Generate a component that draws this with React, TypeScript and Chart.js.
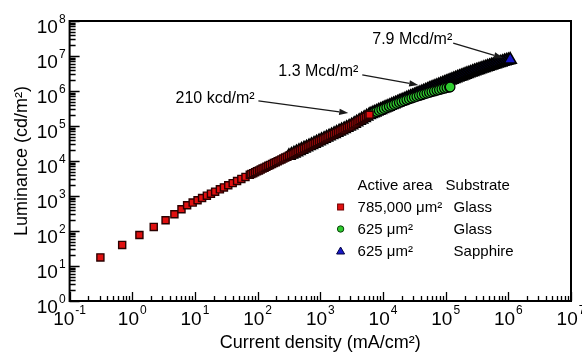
import React, { useEffect, useRef } from 'react';
import { Chart, registerables } from 'chart.js';

Chart.register(...registerables);

const FONT = '"Liberation Sans", Arial, Helvetica, sans-serif';

// Axis decades (exponents of 10)
const xDecades = [-1, 0, 1, 2, 3, 4, 5, 6, 7];
const yDecades = [0, 1, 2, 3, 4, 5, 6, 7, 8];

// 785,000 µm², glass (red squares)
const redCurrent = [
  0.31, 0.69, 1.3, 2.2, 3.4, 4.7, 6.1, 7.5, 9.2, 11, 13, 15.5, 18, 21, 25, 29, 34, 40, 47, 55, 64, 75,
  79.4, 85.1, 91.2, 97.7, 105, 112, 120, 129, 138, 148, 158, 170, 182, 195, 209, 224, 240, 257, 275, 295,
  316, 339, 363, 389, 417, 447, 479, 513, 550, 589, 631, 676, 724, 776, 832, 891, 955, 1023, 1096, 1175,
  1259, 1349, 1445, 1549, 1660, 1778, 1905, 2042, 2188, 2344, 2512, 2692, 2884, 3090, 3311, 3548, 3802,
  4074, 4365, 4677, 5012, 5370, 5754, 6100,
];
const redLum = [
  17.6, 40, 77, 131, 203, 301, 418, 543, 649, 757, 877, 1021, 1164, 1331, 1549, 1762, 2024, 2333, 2681, 3076, 3508, 4027,
  4236, 4498, 4775, 5070, 5383, 5715, 6067, 6442, 6855, 7278, 7727, 8204, 8710, 9247, 9817, 10420, 11070, 11780, 12500, 13270,
  14090, 14960, 15890, 16870, 17910, 19010, 20230, 21480, 22800, 24210, 25700, 27290, 28970, 30760, 32660, 34750, 36900, 39170, 41590, 44160,
  46880, 49770, 52840, 56100, 59700, 63390, 67300, 71450, 75860, 80540, 85510, 90780, 96380, 102600, 110400, 118600, 127600,
  137100, 147600, 158900, 170600, 183700, 197700, 210000,
];

// 625 µm², glass (green circles)
const greenCurrent = [
  316, 347, 380, 417, 457, 501, 550, 603, 661, 724, 794, 871, 955, 1047, 1148, 1259, 1380, 1514, 1660, 1820,
  1995, 2188, 2399, 2630, 2884, 3162, 3467, 3802, 4169, 4571, 5012, 5495, 6026, 6607, 7244, 7943, 8710, 9550,
  10470, 11480, 12590, 13800, 15140, 16600, 18200, 19950, 21880, 23990, 26300, 28840, 31620, 34670, 38020,
  41690, 45710, 50120, 54950, 60260, 66070, 72440, 79430, 87100, 95500, 104700, 114800, 118000,
];
const greenLum = [
  14090, 15280, 16520, 17910, 19410, 21040, 22800, 24660, 26730, 28970, 31410, 34040, 36900, 39900, 43250, 46880, 50820, 55080, 59700, 64570,
  69980, 75860, 82220, 89130, 96380, 105200, 115900, 127600, 140600, 154900, 170600, 188400, 207500, 223900, 240500, 258200, 277300, 297200,
  317700, 339600, 363100, 387300, 413000, 439500, 467700, 497700, 527200, 559800, 592900, 628100, 663700, 699800, 739600,
  778000, 820300, 863000, 905700, 950600, 995400, 1044000, 1092000, 1140000, 1191000, 1242000, 1294000, 1300000,
];

// 625 µm², sapphire (blue triangles)
const blueCurrent = [
  316, 347, 380, 417, 457, 501, 550, 603, 661, 724, 794, 871, 955, 1047, 1148, 1259, 1380, 1514, 1660, 1820,
  1995, 2188, 2399, 2630, 2884, 3162, 3467, 3802, 4169, 4571, 5012, 5495, 6026,
  6457, 6918, 7413, 7943, 8511, 9120, 9772, 10470, 11220, 12020, 12880, 13800, 14790, 15850, 16980, 18200, 19500, 20890,
  22390, 23990, 25700, 27540, 29510, 31620, 33880, 36310, 38900, 41690, 44670, 47860, 51290, 54950, 58880, 63100, 67610,
  72440, 77620, 83180, 89130, 95500, 102300, 109600, 117500, 125900, 134900, 144500, 154900, 166000, 177800, 190500,
  204200, 218800, 234400, 251200, 269200, 288400, 309000, 331100, 354800, 380200, 407400, 436500, 467700, 501200,
  537000, 575400, 616600, 660700, 707900, 758600, 812800, 871000, 933300, 1000000, 1070000,
];
const blueLum = [
  14090, 15280, 16520, 17910, 19410, 21040, 22800, 24660, 26730, 28970, 31410, 34040, 36900, 39900, 43250, 46880, 50820, 55080, 59700, 64570,
  69980, 75860, 82220, 89130, 96380, 105200, 115900, 127600, 140600, 154900, 170600, 188400, 207500,
  219800, 232300, 245500, 259400, 273500, 289100, 305500, 322100, 340400, 358900, 379300, 399900, 422700, 445700, 469900, 495500, 522400, 550800,
  580800, 612400, 645700, 680800, 717800, 756800, 796200, 839500, 885100, 931100, 981800, 1033000, 1086000, 1146000, 1205000, 1268000, 1334000,
  1403000, 1476000, 1552000, 1633000, 1718000, 1807000, 1901000, 1995000, 2099000, 2203000, 2312000, 2427000, 2547000, 2667000, 2799000,
  2931000, 3069000, 3214000, 3365000, 3516000, 3673000, 3846000, 4018000, 4188000, 4375000, 4560000, 4764000, 4966000, 5176000,
  5383000, 5610000, 5834000, 6081000, 6324000, 6577000, 6823000, 7096000, 7362000, 7638000, 7900000,
];

// Legend table
const legendHeader = ['Active area', 'Substrate'];
const legendArea = ['785,000 μm²', '625 μm²', '625 μm²'];
const legendSubstrate = ['Glass', 'Glass', 'Sapphire'];

// Annotations (data coordinates)
const annotationText = ['210 kcd/m²', '1.3 Mcd/m²', '7.9 Mcd/m²'];
const annotationTextX = [4.9, 214, 6745];
const annotationTextY = [4.5e5, 2.68e6, 2.2e7];
const arrowFromX = [103, 4670, 1.32e5];
const arrowFromY = [5.2e5, 2.87e6, 2.35e7];
const arrowToX = [2790, 3.65e4, 8.2e5];
const arrowToY = [2.35e5, 1.48e6, 8.8e6];

const RED = '#e01010';
const GREEN = '#2fcc2f';
const BLUE = '#1818c8';

function pts(xs: number[], ys: number[]) {
  return xs.map((x, i) => ({ x, y: ys[i] }));
}

function drawArrow(ctx: CanvasRenderingContext2D, x1: number, y1: number, x2: number, y2: number) {
  const ang = Math.atan2(y2 - y1, x2 - x1);
  const head = 9;
  const half = 3.2;
  const bx = x2 - head * Math.cos(ang);
  const by = y2 - head * Math.sin(ang);
  ctx.beginPath();
  ctx.moveTo(x1, y1);
  ctx.lineTo(bx, by);
  ctx.stroke();
  ctx.beginPath();
  ctx.moveTo(x2, y2);
  ctx.lineTo(bx + half * Math.sin(ang), by - half * Math.cos(ang));
  ctx.lineTo(bx - half * Math.sin(ang), by + half * Math.cos(ang));
  ctx.closePath();
  ctx.fill();
}

const overlay = {
  id: 'overlay',
  afterDraw(chart: any) {
    const { ctx, chartArea: a, scales } = chart;
    const xs = scales.x;
    const ys = scales.y;
    ctx.save();
    ctx.strokeStyle = '#000';
    ctx.fillStyle = '#000';

    // inward ticks: bottom axis
    ctx.lineWidth = 1.3;
    ctx.beginPath();
    for (let i = 0; i < xDecades.length; i++) {
      const e = xDecades[i];
      const p = Math.round(xs.getPixelForValue(Math.pow(10, e))) + 0.5;
      ctx.moveTo(p, a.bottom);
      ctx.lineTo(p, a.bottom - 9);
      if (i < xDecades.length - 1) {
        for (let m = 2; m <= 9; m++) {
          const q = Math.round(xs.getPixelForValue(m * Math.pow(10, e))) + 0.5;
          ctx.moveTo(q, a.bottom);
          ctx.lineTo(q, a.bottom - 5);
        }
      }
    }
    // left axis
    for (let i = 0; i < yDecades.length; i++) {
      const e = yDecades[i];
      const p = Math.round(ys.getPixelForValue(Math.pow(10, e))) + 0.5;
      ctx.moveTo(a.left, p);
      ctx.lineTo(a.left + 10, p);
      if (i < yDecades.length - 1) {
        for (let m = 2; m <= 9; m++) {
          const q = Math.round(ys.getPixelForValue(m * Math.pow(10, e))) + 0.5;
          ctx.moveTo(a.left, q);
          ctx.lineTo(a.left + 6, q);
        }
      }
    }
    ctx.stroke();

    // frame
    ctx.lineWidth = 2;
    ctx.strokeRect(a.left, a.top, a.right - a.left, a.bottom - a.top);

    // tick labels
    const big = `19px ${FONT}`;
    const small = `12px ${FONT}`;
    ctx.textBaseline = 'alphabetic';
    ctx.textAlign = 'left';
    for (const e of xDecades) {
      const p = xs.getPixelForValue(Math.pow(10, e));
      ctx.font = big;
      const w1 = ctx.measureText('10').width;
      ctx.font = small;
      const ex = String(e);
      const w2 = ctx.measureText(ex).width;
      const x0 = p - (w1 + w2 + 1) / 2;
      ctx.font = big;
      ctx.fillText('10', x0, a.bottom + 24);
      ctx.font = small;
      ctx.fillText(ex, x0 + w1 + 1, a.bottom + 13);
    }
    for (const e of yDecades) {
      const p = ys.getPixelForValue(Math.pow(10, e));
      ctx.font = small;
      const ex = String(e);
      const w2 = ctx.measureText(ex).width;
      ctx.font = big;
      const w1 = ctx.measureText('10').width;
      const xr = a.left - 4;
      ctx.fillText('10', xr - w2 - 1 - w1, p + 12);
      ctx.font = small;
      ctx.fillText(ex, xr - w2, p + 2);
    }

    // annotations
    ctx.font = `16px ${FONT}`;
    ctx.lineWidth = 1.3;
    ctx.strokeStyle = '#1a1a1a';
    for (let i = 0; i < annotationText.length; i++) {
      ctx.fillStyle = '#000';
      ctx.fillText(annotationText[i], xs.getPixelForValue(annotationTextX[i]), ys.getPixelForValue(annotationTextY[i]));
      ctx.fillStyle = '#1a1a1a';
      drawArrow(
        ctx,
        xs.getPixelForValue(arrowFromX[i]), ys.getPixelForValue(arrowFromY[i]),
        xs.getPixelForValue(arrowToX[i]), ys.getPixelForValue(arrowToY[i])
      );
    }

    // legend table
    const lx = a.left + 271;
    const tx = a.left + 288;
    const sx = a.left + 384;
    ctx.font = `15px ${FONT}`;
    ctx.fillStyle = '#000';
    ctx.fillText(legendHeader[0], tx, a.top + 169);
    ctx.fillText(legendHeader[1], sx - 8, a.top + 169);
    for (let i = 0; i < legendArea.length; i++) {
      const cy = a.top + 186 + i * 22;
      ctx.fillStyle = '#000';
      ctx.fillText(legendArea[i], tx, cy + 5);
      ctx.fillText(legendSubstrate[i], sx, cy + 5);
      ctx.lineWidth = 1;
      if (i === 0) {
        ctx.fillStyle = RED;
        ctx.strokeStyle = '#700000';
        ctx.fillRect(lx - 3, cy - 3, 6, 6);
        ctx.strokeRect(lx - 3, cy - 3, 6, 6);
      } else if (i === 1) {
        ctx.fillStyle = GREEN;
        ctx.strokeStyle = '#0a400a';
        ctx.beginPath();
        ctx.arc(lx, cy, 3.2, 0, Math.PI * 2);
        ctx.fill();
        ctx.stroke();
      } else {
        ctx.fillStyle = BLUE;
        ctx.strokeStyle = '#000040';
        ctx.beginPath();
        ctx.moveTo(lx, cy - 4);
        ctx.lineTo(lx + 4, cy + 3);
        ctx.lineTo(lx - 4, cy + 3);
        ctx.closePath();
        ctx.fill();
        ctx.stroke();
      }
    }
    ctx.restore();
  },
};

export default function App() {
  const ref = useRef<HTMLCanvasElement>(null);
  useEffect(() => {
    document.body.style.margin = '0';
    const chart = new Chart(ref.current as HTMLCanvasElement, {
      type: 'scatter',
      data: {
        datasets: [
          {
            label: '785,000 μm² Glass',
            data: pts(redCurrent, redLum),
            pointStyle: 'rect',
            pointRadius: 5,
            backgroundColor: RED,
            borderColor: '#2a0000',
            borderWidth: 1.4,
          },
          {
            label: '625 μm² Glass',
            data: pts(greenCurrent, greenLum),
            pointStyle: 'circle',
            pointRadius: 4.8,
            backgroundColor: GREEN,
            borderColor: '#000',
            borderWidth: 1.2,
          },
          {
            label: '625 μm² Sapphire',
            data: pts(blueCurrent, blueLum),
            pointStyle: 'triangle',
            pointRadius: 7,
            backgroundColor: BLUE,
            borderColor: '#000',
            borderWidth: 1.6,
          },
        ],
      },
      options: {
        responsive: false,
        animation: false,
        devicePixelRatio: 1,
        events: [],
        layout: { padding: { left: 0, right: 11, top: 21, bottom: 0 } },
        plugins: { legend: { display: false }, tooltip: { enabled: false } },
        scales: {
          x: {
            type: 'logarithmic',
            position: 'bottom',
            min: 0.1,
            max: 1e7,
            ticks: { display: false },
            grid: { display: false, drawTicks: false },
            border: { display: false },
            title: {
              display: true,
              text: 'Current density (mA/cm²)',
              color: '#000',
              font: { family: FONT, size: 18 },
              padding: { top: 31.4, bottom: 0 },
            },
          },
          y: {
            type: 'logarithmic',
            position: 'left',
            min: 1,
            max: 1e8,
            ticks: { display: false },
            grid: { display: false, drawTicks: false },
            border: { display: false },
            title: {
              display: true,
              text: 'Luminance (cd/m²)',
              color: '#000',
              font: { family: FONT, size: 18 },
              padding: { top: 11, bottom: 37 },
            },
          },
        },
      },
      plugins: [overlay],
    });
    return () => chart.destroy();
  }, []);
  return <canvas ref={ref} width={582} height={354} style={{ display: 'block' }} />;
}
